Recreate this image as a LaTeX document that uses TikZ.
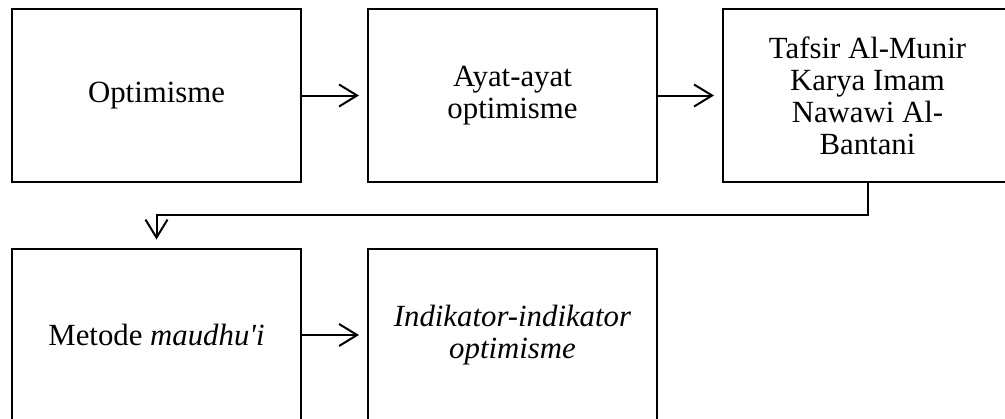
\documentclass[tikz,border=0pt]{standalone}
\usepackage{fontspec}
\newfontfamily\tnr{Liberation Serif}
\usetikzlibrary{arrows.meta}
\begin{document}
\begin{tikzpicture}[x=0.5pt,y=-0.5pt,
  box/.style={draw, line width=1pt, minimum width=144.5pt, minimum height=86.5pt,
    inner sep=0pt, align=center, font=\tnr\fontsize{15.4}{16}\selectfont},
  arr/.style={line width=1pt, -{Straight Barb[length=9pt,width=11pt,line width=1pt]}, shorten >=4pt}]
\useasboundingbox (0,0) rectangle (1005,418);
\clip (0,0) rectangle (1005,418);
\node[box] (b1) at (156.5,95.5) {Optimisme};
\node[box] (b2) at (512.5,95.5) {Ayat-ayat\\optimisme};
\node[box] (b3) at (867.5,95.5) {Tafsir Al-Munir\\Karya Imam\\Nawawi Al-\\Bantani};
\node[box] (b4) at (156.5,335) {Metode \textit{maudhu'i}};
\node[box] (b5) at (512.5,335) {\textit{Indikator-indikator}\\\textit{optimisme}};
\coordinate (m) at (0,215);
\draw[arr] (b1.east) -- (b2.west);
\draw[arr] (b2.east) -- (b3.west);
\draw[arr] (b3.south) -- (b3.south |- m) -- (b4.north |- m) -- (b4.north);
\draw[arr] (b4.east) -- (b5.west);
\end{tikzpicture}
\end{document}
